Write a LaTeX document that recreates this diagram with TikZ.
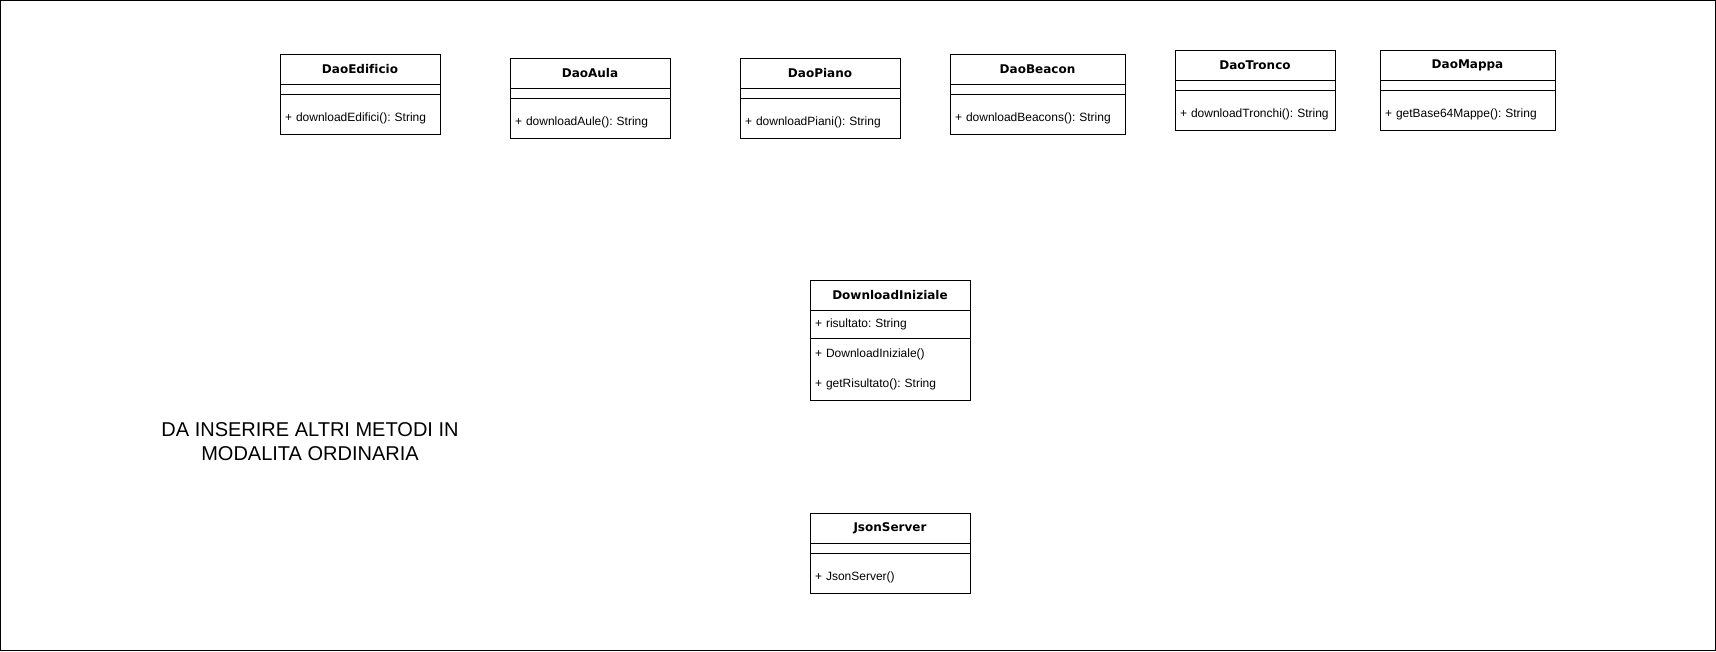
\documentclass[tikz,border=0pt]{standalone}
\usepackage{fontspec}
\setmainfont[Ligatures=NoCommon]{Liberation Sans}
\newfontfamily\headfont[Ligatures=NoCommon]{DejaVu Sans}
\usepackage{tikz}

\tikzset{
  classhead/.style={draw,line width=1pt,outer sep=0pt,minimum height=30pt,inner xsep=5pt,
    text width=150pt,align=center,font=\headfont\bfseries\fontsize{12pt}{14pt}\selectfont},
  classattr/.style={draw,line width=1pt,outer sep=0pt,minimum height=10pt,inner xsep=5pt,
    text width=150pt,align=left,anchor=north,font=\fontsize{12pt}{14pt}\selectfont\frenchspacing},
  classops/.style={draw,line width=1pt,outer sep=0pt,minimum height=40pt,inner xsep=5pt,inner ysep=0pt,
    text width=150pt,align=left,anchor=north,text height=18pt,text depth=2.5pt,
    font=\fontsize{12pt}{14pt}\selectfont\frenchspacing},
  wide/.style={text width=165pt}
}

\begin{document}
\begin{tikzpicture}[x=1pt,y=-1pt]
\useasboundingbox (0,0) rectangle (1716,651);
\draw[line width=1pt] (0.5,0.5) rectangle (1715.5,650.5);
\node[classhead,anchor=north west] (edificio) at (280,54) {DaoEdificio};
\node[classattr] (edificioA) at (edificio.south) {};
\node[classops] (edificioM) at (edificioA.south) {+ downloadEdifici(): String};
\node[classhead,anchor=north west] (aula) at (510,58) {DaoAula};
\node[classattr] (aulaA) at (aula.south) {};
\node[classops] (aulaM) at (aulaA.south) {+ downloadAule(): String};
\node[classhead,anchor=north west] (piano) at (740,58) {DaoPiano};
\node[classattr] (pianoA) at (piano.south) {};
\node[classops] (pianoM) at (pianoA.south) {+ downloadPiani(): String};
\node[classhead,wide,anchor=north west] (beacon) at (950,54) {DaoBeacon};
\node[classattr,wide] (beaconA) at (beacon.south) {};
\node[classops,wide] (beaconM) at (beaconA.south) {+ downloadBeacons(): String};
\node[classhead,anchor=north west] (tronco) at (1175,50) {DaoTronco};
\node[classattr] (troncoA) at (tronco.south) {};
\node[classops] (troncoM) at (troncoA.south) {\mbox{+ downloadTronchi(): String}};
\node[classhead,wide,anchor=north west] (mappa) at (1380,50) {DaoMappa};
\node[classattr,wide] (mappaA) at (mappa.south) {};
\node[classops,wide] (mappaM) at (mappaA.south) {+ getBase64Mappe(): String};
\node[classhead,anchor=north west] (download) at (810,280) {DownloadIniziale};
\node[classattr,minimum height=28pt] (downloadA) at (download.south) {+ risultato: String};
\node[classattr,minimum height=62pt,font=\fontsize{12pt}{30pt}\selectfont\frenchspacing] (downloadM) at (downloadA.south) {+ DownloadIniziale()\\+ getRisultato(): String};
\node[classhead,anchor=north west] (json) at (810,513) {JsonServer};
\node[classattr] (jsonA) at (json.south) {};
\node[classops] (jsonM) at (jsonA.south) {+ JsonServer()};
\node[align=center,font=\fontsize{20pt}{24pt}\selectfont] (nota) at (310,442) {DA INSERIRE ALTRI METODI IN\\MODALITA ORDINARIA};
\end{tikzpicture}
\end{document}
